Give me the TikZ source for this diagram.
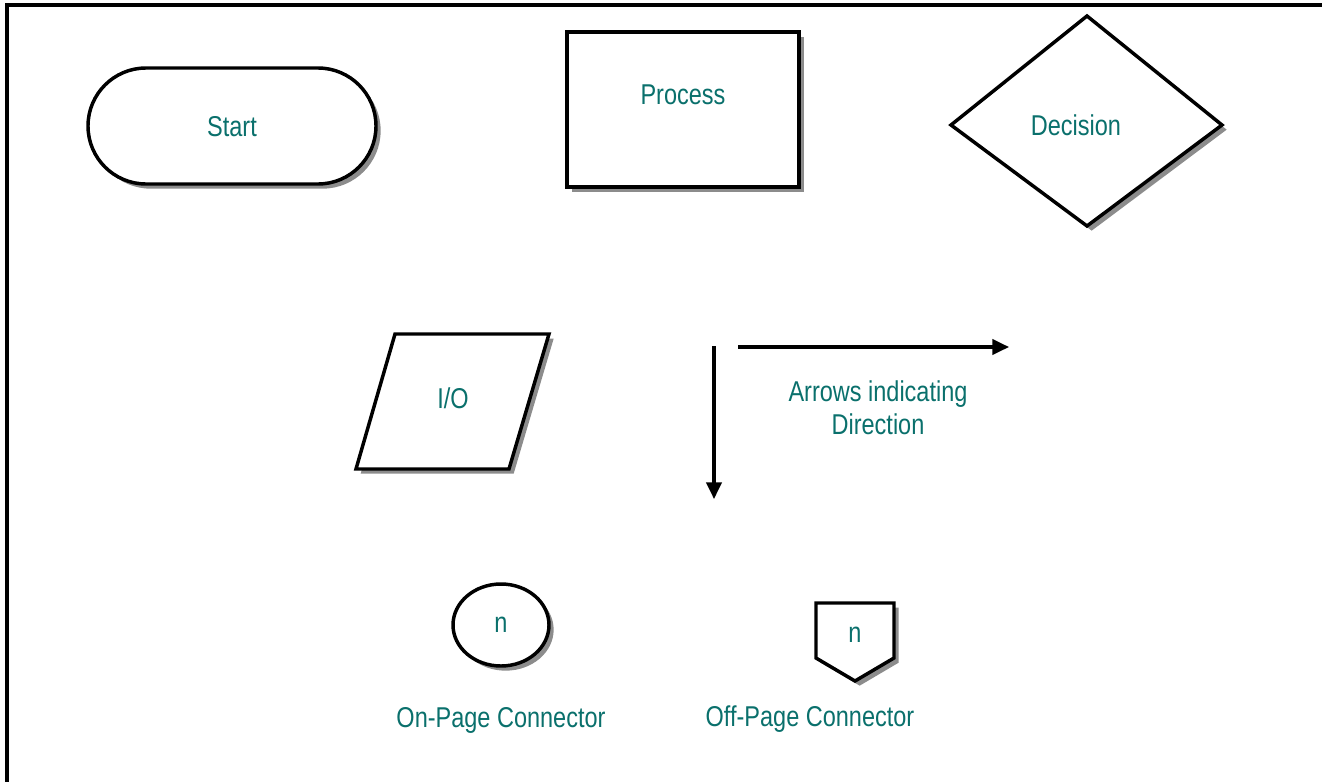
\documentclass[tikz,border=0pt]{standalone}
\usepackage{fontspec}
\setmainfont{Liberation Sans}[FakeStretch=0.82]
\usetikzlibrary{shadows,arrows.meta}
\definecolor{txt}{RGB}{10,112,108}
\tikzset{
  shp/.style={draw=black, line width=2.6pt, fill=white,
    drop shadow={shadow xshift=3.5pt, shadow yshift=-3.5pt, fill=black!45, opacity=1}},
  lbl/.style={text=txt, font=\fontsize{21.5}{25}\selectfont, inner sep=0pt, align=center},
  arr/.style={line width=2.3pt, -{Triangle[length=12.5pt,width=11.5pt]}},
}
\begin{document}
\begin{tikzpicture}[x=0.75pt,y=-0.75pt]
\useasboundingbox (0,0) rectangle (1322,782);
\begin{scope}
  \clip (0,0) rectangle (1322,782);
  \draw[line width=2.6pt] (7,5) rectangle (1345,805);
\end{scope}
% Start
\draw[shp, rounded corners=43.5pt] (88,68) rectangle (376,184);
\node[lbl] (start) at (232,127) {Start};
% Process
\draw[shp] (567,32) rectangle (799,187);
\node[lbl] (process) at (683,95) {Process};
% Decision
\draw[shp] (951,125) -- (1087,16) -- (1222,125) -- (1087,226) -- cycle;
\node[lbl] (decision) at (1076,125) {Decision};
% I/O
\draw[shp] (395,334) -- (549,334) -- (509,469) -- (356,469) -- cycle;
\node[lbl] (io) at (453,398) {I/O};
% Arrows
\coordinate (vA) at (714,346);
\coordinate (vB) at (714,499);
\coordinate (hA) at (738,347);
\coordinate (hB) at (1009,347);
\draw[arr] (vA) -- (vB);
\draw[arr] (hA) -- (hB);
\node[lbl] (arrtxt) at (878,408) {Arrows indicating\\Direction};
% On-page connector
\draw[shp] (501,625) ellipse [x radius=36pt, y radius=30.75pt];
\node[lbl] (onn) at (501,625) {n};
\node[lbl] (onlbl) at (501,720) {On-Page Connector};
% Off-page connector
\draw[shp] (816,603) -- (894,603) -- (894,658) -- (855,681) -- (816,658) -- cycle;
\node[lbl] (offn) at (855,635) {n};
\node[lbl] (offlbl) at (810,719) {Off-Page Connector};
\end{tikzpicture}
\end{document}
